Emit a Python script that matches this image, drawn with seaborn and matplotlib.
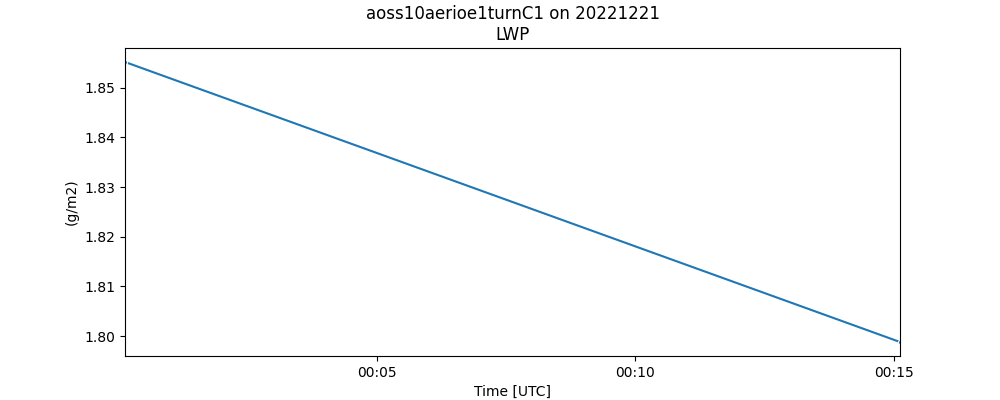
import matplotlib
matplotlib.use("Agg")
import matplotlib.dates as mdates
import pandas as pd
import seaborn as sns
from matplotlib import pyplot as plt

times = ["2022-12-21 00:00:08", "2022-12-21 00:15:07"]
lwp = [1.8552, 1.7988]

df = pd.DataFrame({"time": pd.to_datetime(times), "lwp": lwp})

fig, ax = plt.subplots(figsize=(10, 4), dpi=100)
sns.lineplot(data=df, x="time", y="lwp", ax=ax, marker=".", markersize=6,
             color="#1f77b4")

ax.set_xmargin(0)
ax.autoscale_view()
ax.xaxis.set_major_locator(mdates.MinuteLocator(byminute=[5, 10, 15]))
ax.xaxis.set_major_formatter(mdates.DateFormatter("%H:%M"))
ax.set_xlabel("Time [UTC]")
ax.set_ylabel("(g/m2)")
ax.set_title("aoss10aerioe1turnC1 on 20221221\nLWP")

fig.savefig("out.png")
